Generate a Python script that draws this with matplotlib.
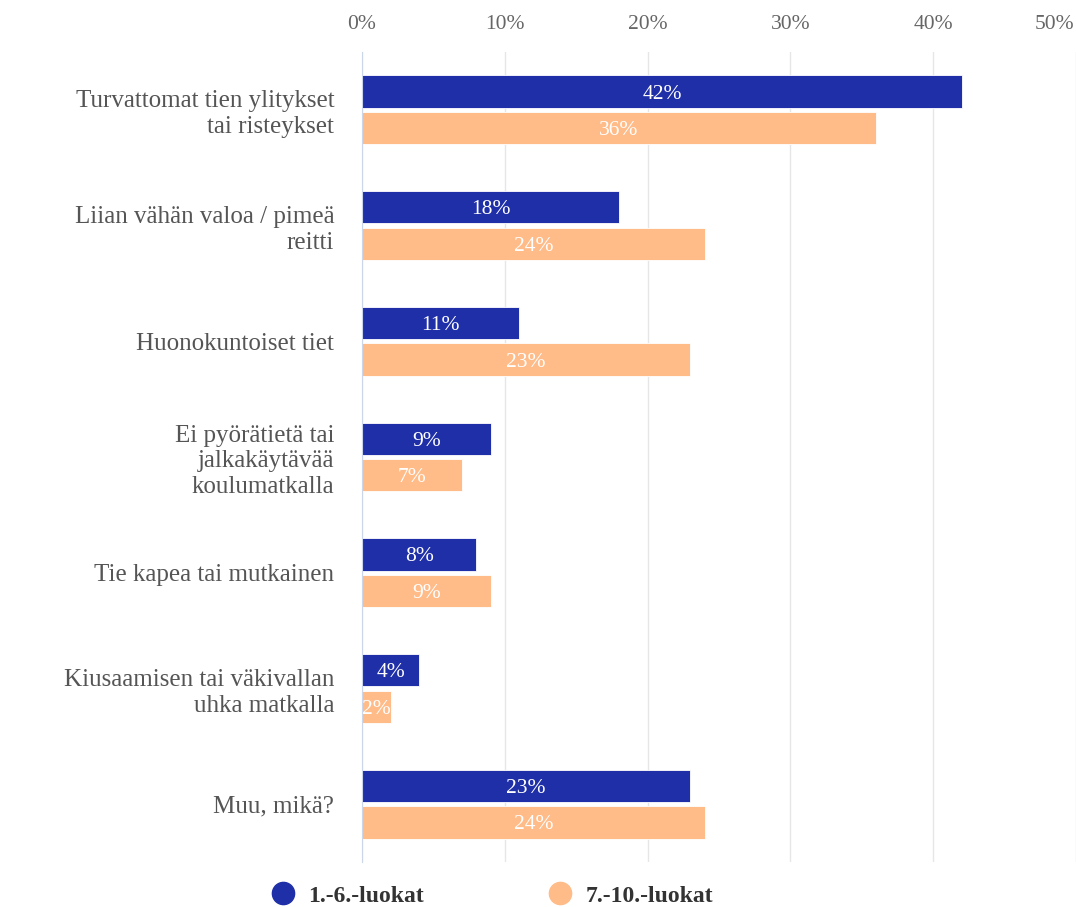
import matplotlib
matplotlib.use("Agg")
import matplotlib.pyplot as plt
from matplotlib.lines import Line2D
import matplotlib.transforms as mtransforms
import numpy as np

categories = [
    "Turvattomat tien ylitykset\ntai risteykset",
    "Liian vähän valoa / pimeä\nreitti",
    "Huonokuntoiset tiet",
    "Ei pyörätietä tai\njalkakäytävää\nkoulumatkalla",
    "Tie kapea tai mutkainen",
    "Kiusaamisen tai väkivallan\nuhka matkalla",
    "Muu, mikä?",
]
series_names = ["1.-6.-luokat", "7.-10.-luokat"]
values_1_6 = [42, 18, 11, 9, 8, 4, 23]
values_7_10 = [36, 24, 23, 7, 9, 2, 24]
xticks = [0, 10, 20, 30, 40, 50]

colors = ["#1f2fa8", "#ffbb88"]
font = "Liberation Serif"

fig = plt.figure(figsize=(10.76, 9.07), dpi=100)
ax = fig.add_axes([362/1076, 1-862/907, 1-362/1076, 810/907])

y = np.arange(len(categories))
h = 0.28
off = 0.158
b1 = ax.barh(y - off, values_1_6, height=h, color=colors[0], edgecolor="white", linewidth=0.6, zorder=3)
b2 = ax.barh(y + off, values_7_10, height=h, color=colors[1], edgecolor="white", linewidth=0.6, zorder=3)

for bars, vals in ((b1, values_1_6), (b2, values_7_10)):
    for rect, v in zip(bars, vals):
        ax.text(rect.get_x() + rect.get_width()/2, rect.get_y() + rect.get_height()/2,
                f"{v}%", ha="center", va="center_baseline", color="white", fontsize=15.5,
                family=font, zorder=4)

ax.set_xlim(0, 50)
ax.set_ylim(len(categories) - 0.5, -0.5)
ax.set_xticks(xticks)
ax.set_xticklabels([f"{t}%" for t in xticks], family=font, fontsize=15.5, color="#666666")
ax.xaxis.tick_top()
ax.tick_params(axis="x", length=0, pad=13)
last = ax.get_xticklabels()[-1]
last.set_horizontalalignment("right")
last.set_transform(last.get_transform() + mtransforms.ScaledTranslation(-2/100, 0, fig.dpi_scale_trans))
ax.set_yticks(y)
ax.set_yticklabels(categories, family=font, fontsize=18, color="#555555", linespacing=1.22)
ax.tick_params(axis="y", length=0, pad=20)
ax.grid(axis="x", color="#e6e6e6", linewidth=1, zorder=0)
for s in ("top", "right", "bottom"):
    ax.spines[s].set_visible(False)
ax.spines["left"].set_color("#ccd6eb")
ax.spines["left"].set_zorder(5)

handles = [Line2D([0], [0], marker="o", linestyle="", markersize=16, markerfacecolor=c,
                  markeredgecolor=c) for c in colors]
leg = fig.legend(handles, series_names, loc="center", bbox_to_anchor=(0.452, 1-896/907),
                 ncol=2, frameon=False, handletextpad=0.1, columnspacing=4.75,
                 prop={"family": font, "weight": "bold", "size": 17})
for t in leg.get_texts():
    t.set_color("#333333")

fig.savefig("out.png", dpi=100)
